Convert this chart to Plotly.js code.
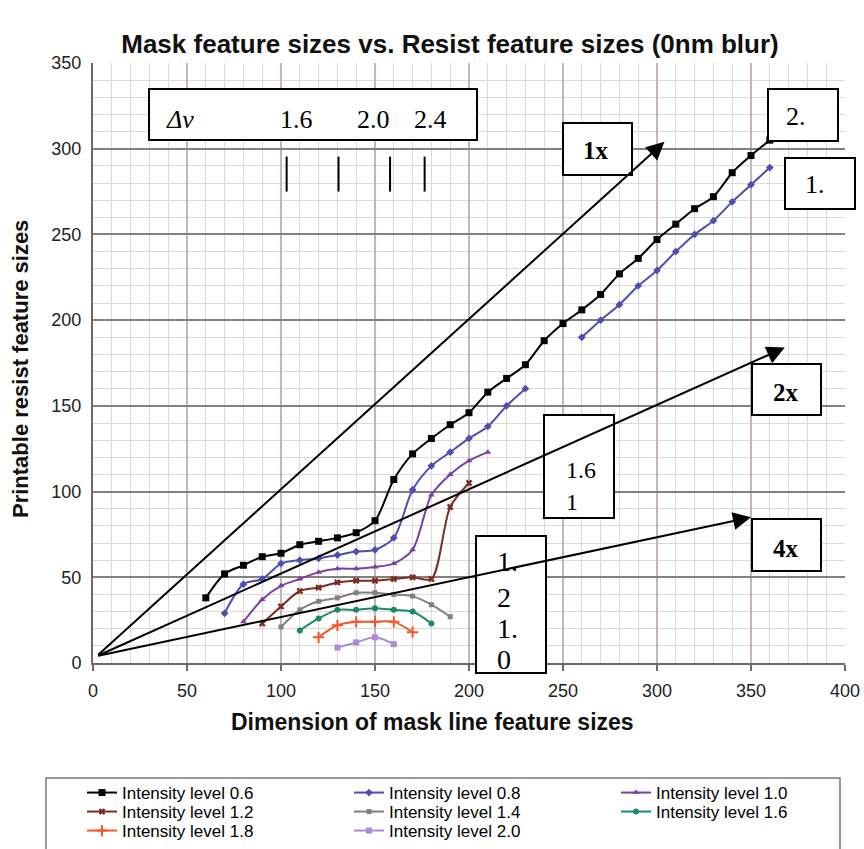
<!DOCTYPE html>
<html>
<head>
<meta charset="utf-8">
<script src="https://cdn.plot.ly/plotly-3.0.1.min.js"></script>
<style>html,body{margin:0;padding:0;background:#fff;}#chart{width:864px;height:849px;}</style>
</head>
<body>
<div id="chart"></div>
<script>
// ---------- data ----------
const seriesNames = ['Intensity level 0.6','Intensity level 0.8','Intensity level 1.0','Intensity level 1.2',
                     'Intensity level 1.4','Intensity level 1.6','Intensity level 1.8','Intensity level 2.0'];

const x06 = [60,70,80,90,100,110,120,130,140,150,160,170,180,190,200,210,220,230,240,250,260,270,280,290,300,310,320,330,340,350,360];
const y06 = [38,52,57,62,64,69,71,73,76,83,107,122,131,139,146,158,166,174,188,198,206,215,227,236,247,256,265,272,286,296,305];

const x08 = [70,80,90,100,110,120,130,140,150,160,170,180,190,200,210,220,230,null,260,270,280,290,300,310,320,330,340,350,360];
const y08 = [29,46,49,58,60,61,63,65,66,73,101,115,123,131,138,150,160,null,190,200,209,220,229,240,250,258,269,279,289];

const x10 = [80,90,100,110,120,130,140,150,160,170,180,190,200,210];
const y10 = [24,37,45,49,53,55,55,56,58,66,98,110,118,123];

const x12 = [90,100,110,120,130,140,150,160,170,180,190,200];
const y12 = [23,33,42,44,47,48,48,49,50,49,91,105];

const x14 = [100,110,120,130,140,150,160,170,180,190];
const y14 = [21,31,36,38,41,41,40,39,34,27];

const x16 = [110,120,130,140,150,160,170,180];
const y16 = [19,26,31,31,32,31,30,23];

const x18 = [120,130,140,150,160,170];
const y18 = [15,22,24,24,24,18];

const x20 = [130,140,150,160];
const y20 = [9,12,15,11];

// magnification guide lines (start point and arrow tips, data units)
const guideStart = [2, 4];
const guideTipsX = [304, 368, 350];
const guideTipsY = [304, 184, 85];

// Δv marker positions along x
const dvMarkX = [103, 130.6, 158, 176.4];
const dvMarkY = [275, 295.4];

// tick labels
const xTicks = [0,50,100,150,200,250,300,350,400];
const yTicks = [0,50,100,150,200,250,300,350];

// ---------- styling ----------
const colors = ['#000000','#4b4fb0','#7b3fa0','#7a2e22','#808080','#1a8a6e','#f0582a','#a98bd6'];
const symbols = ['square','diamond','triangle-up','x','square','circle','cross-thin','square'];
const msizes = [7,6,6,6,5,6,8,6];
const legendRow = ['legend','legend','legend','legend2','legend2','legend2','legend3','legend3'];
const xs = [x06,x08,x10,x12,x14,x16,x18,x20];
const ys = [y06,y08,y10,y12,y14,y16,y18,y20];

const traces = xs.map((xv,i)=>({
  type:'scatter', mode:'lines+markers', name:seriesNames[i], legend:legendRow[i],
  x:xv, y:ys[i],
  line:{color:colors[i], width:2, shape:'spline', smoothing:0.8},
  marker:{symbol:symbols[i], size:msizes[i], color:colors[i], line:{color:colors[i], width: symbols[i]==='cross-thin'?2:0}},
  connectgaps:false
}));

// layout geometry (pixels)
const W=864, H=849, L=93, R=19, T=63, B=186;
const PW = W-L-R, PH = H-T-B;
const px = v => (v-L)/PW;
const py = v => (H-B-v)/PH;

const serif = 'Liberation Serif, Times New Roman, serif';
const sans = 'Liberation Sans, Arial, Helvetica, sans-serif';

// boxes [x0,y0,x1,y1] in pixels
const boxes = [
  [149,89,477,140],
  [563,123,632,175],
  [768,89,838,141],
  [785,158,855,209],
  [752,364,821,415],
  [752,519,821,571],
  [544,415,614,518],
  [476,536,546,673]
];
const shapes = boxes.map(b=>({type:'rect', xref:'paper', yref:'paper', layer:'above',
  x0:px(b[0]), x1:px(b[2]), y0:py(b[1]), y1:py(b[3]),
  fillcolor:'#ffffff', line:{color:'#000', width:2}}));

dvMarkX.forEach(v=>shapes.push({type:'line', xref:'x', yref:'y', layer:'above',
  x0:v, x1:v, y0:dvMarkY[0], y1:dvMarkY[1], line:{color:'#000', width:2}}));

// legend frame
shapes.push({type:'rect', xref:'paper', yref:'paper', layer:'above',
  x0:px(46), x1:px(840), y0:py(778), y1:py(870), fillcolor:'rgba(0,0,0,0)', line:{color:'#777', width:1.5}});

// text labels [text, xpx, ypx, anchor, size, bold, italic]
const labels = [
  ['Δv',180,120,'center',26,false,true],
  ['1.6',296,120,'center',26,false,false],
  ['2.0',373,120,'center',26,false,false],
  ['2.4',430,120,'center',26,false,false],
  ['1x',596,151,'center',25,true,false],
  ['2.',796,117,'center',26,false,false],
  ['1.',815,184,'center',26,false,false],
  ['2x',786,392,'center',25,true,false],
  ['4x',786,548,'center',25,true,false],
  ['1.6',564,470,'left',24,false,false],
  ['1',564,502,'left',24,false,false],
  ['1.',495,561,'left',28,false,false],
  ['2',495,597,'left',28,false,false],
  ['1.',495,628,'left',28,false,false],
  ['0',495,659,'left',28,false,false]
];
const annotations = labels.map(l=>({
  xref:'paper', yref:'paper', x:px(l[1]), y:py(l[2]), xanchor:l[3], yanchor:'middle',
  showarrow:false, text: l[5]?('<b>'+l[0]+'</b>'):(l[6]?('<i>'+l[0]+'</i>'):l[0]),
  font:{family:serif, size:l[4], color:'#000'}
}));

// guide arrows
guideTipsX.forEach((tx,i)=>annotations.push({
  xref:'x', yref:'y', axref:'x', ayref:'y', x:tx, y:guideTipsY[i], ax:guideStart[0], ay:guideStart[1],
  text:'', showarrow:true, arrowhead:2, arrowsize:1.8, arrowwidth:2, arrowcolor:'#000', standoff:0
}));

// axis titles
annotations.push({xref:'paper', yref:'paper', x:px(432), y:py(722), xanchor:'center', yanchor:'middle', showarrow:false,
  text:'<b>Dimension of mask line feature sizes</b>', font:{family:sans, size:23, color:'#111'}});
annotations.push({xref:'paper', yref:'paper', x:px(20), y:py(369), xanchor:'center', yanchor:'middle', showarrow:false, textangle:-90,
  text:'<b>Printable resist feature sizes</b>', font:{family:sans, size:22, color:'#111'}});

const legendBase = {orientation:'h', x:px(82), xanchor:'left', yanchor:'middle',
  entrywidth:222, entrywidthmode:'pixels', traceorder:'normal',
  font:{family:sans, size:17, color:'#000'}, bgcolor:'rgba(0,0,0,0)', borderwidth:0};

const layout = {
  width:W, height:H,
  margin:{l:L, r:R, t:T, b:B, pad:0, autoexpand:false},
  paper_bgcolor:'#fff', plot_bgcolor:'#fff',
  title:{text:'<b>Mask feature sizes vs. Resist feature sizes (0nm blur)</b>', xref:'container', yref:'container',
         x:450/W, y:1-44/H, xanchor:'center', yanchor:'middle', font:{family:sans, size:26, color:'#111'}},
  showlegend:true,
  legend: Object.assign({}, legendBase, {y:py(793)}),
  legend2: Object.assign({}, legendBase, {y:py(812)}),
  legend3: Object.assign({}, legendBase, {y:py(831)}),
  xaxis:{range:[0,400], tickvals:xTicks, ticktext:xTicks.map(String), showgrid:true, gridcolor:'#c4b6b6', gridwidth:1.3,
         minor:{dtick:10, showgrid:true, gridcolor:'#e2d6d6', gridwidth:1},
         zeroline:false, showline:true, linecolor:'#6e6868', linewidth:2, ticks:'outside', ticklen:6, tickcolor:'#6e6868', tickwidth:2,
         ticklabelstandoff:4,
         tickfont:{family:sans, size:18, color:'#222'}, fixedrange:true},
  yaxis:{range:[0,350], tickvals:yTicks, ticktext:yTicks.map(String), showgrid:true, gridcolor:'#858080', gridwidth:2,
         minor:{dtick:10, showgrid:true, gridcolor:'#e2d6d6', gridwidth:1},
         zeroline:false, showline:true, linecolor:'#6e6868', linewidth:2, ticks:'', ticklabelstandoff:6,
         tickfont:{family:sans, size:18, color:'#222'}, fixedrange:true},
  shapes:shapes,
  annotations:annotations
};

Plotly.newPlot('chart', traces, layout, {displayModeBar:false, staticPlot:true});
</script>
</body>
</html>
